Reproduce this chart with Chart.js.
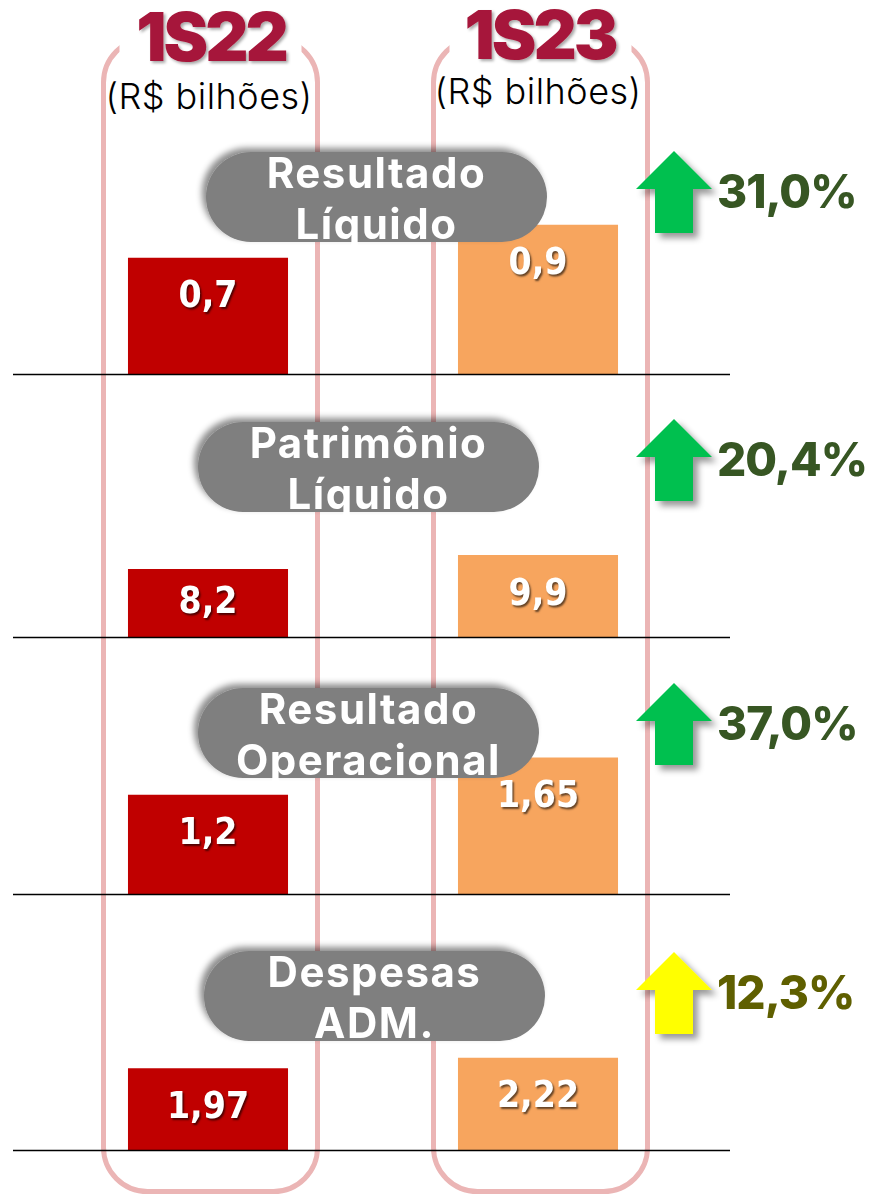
<!DOCTYPE html>
<html>
<head>
<meta charset="utf-8">
<script src="https://cdn.jsdelivr.net/npm/chart.js@4.4.0/dist/chart.umd.min.js"></script>
<style>
  body { margin: 0; background: #fff; }
  #page { position: relative; width: 871px; height: 1196px; overflow: hidden; background: #fff; }
  #page svg, #page canvas { position: absolute; left: 0; }
  #back { top: 0; z-index: 0; }
  #front { top: 0; z-index: 2; pointer-events: none; }
  canvas { z-index: 1; }
</style>
</head>
<body>
<div id="page">
  <svg id="back" width="871" height="1196"></svg>
  <svg id="front" width="871" height="1196"></svg>
</div>
<script>
// dados
var periods = ['1S22', '1S23'];
var unitLabel = '(R$ bilhões)';
var metrics = [['Resultado', 'Líquido'], ['Patrimônio', 'Líquido'], ['Resultado', 'Operacional'], ['Despesas', 'ADM.']];
var values1S22 = [0.7, 8.2, 1.2, 1.97];
var values1S23 = [0.9, 9.9, 1.65, 2.22];
var growth = ['31,0%', '20,4%', '37,0%', '12,3%'];
var axisMax = [1.41, 28.6, 2.83, 5.54];

// layout de cada painel
var panelTop = [140, 400, 660, 920];
var panelBase = [374, 637, 894, 1150];
var pillBox = [[206, 152, 547, 242], [198, 422, 539, 512], [198, 688, 539, 778], [204, 951, 545, 1041]];
var arrowTip = [151, 419, 683, 952];
var arrowColor = ['#00c050', '#00c050', '#00c050', '#ffff00'];
var growthColor = ['#375623', '#375623', '#375623', '#5f5f00'];

var NS = 'http://www.w3.org/2000/svg';
function el(parent, tag, attrs, text) {
    var e = document.createElementNS(NS, tag);
    for (var k in attrs) e.setAttribute(k, attrs[k]);
    if (text !== undefined) e.textContent = text;
    parent.appendChild(e);
    return e;
}

// fundo: molduras rosa + titulos
var back = document.getElementById('back');
var defsB = el(back, 'defs', {});
var fT = el(defsB, 'filter', { id: 'tshadow', x: '-20%', y: '-20%', width: '140%', height: '140%' });
el(fT, 'feDropShadow', { dx: 2, dy: 2, stdDeviation: 1.5, 'flood-color': '#000', 'flood-opacity': 0.35 });

var colX = [103.5, 433.5];
var titleX = [211, 540];
var titleY = [61, 59];
var subY = [109, 104];
var subX = [209, 538];
for (var c = 0; c < 2; c++) {
    el(back, 'rect', { x: colX[c], y: 38.5, width: 214, height: 1153, rx: 44, ry: 44,
        fill: 'none', stroke: '#ebb5b5', 'stroke-width': 5 });
    el(back, 'rect', { x: colX[c] + 16, y: 20, width: 182, height: 40, fill: '#fff' });
    el(back, 'text', { x: titleX[c], y: titleY[c], 'text-anchor': 'middle', fill: '#a6193a',
        'font-family': 'Inter, sans-serif', 'font-weight': 900, 'font-size': 67,
        'letter-spacing': -3, filter: 'url(#tshadow)' }, periods[c]);
    el(back, 'text', { x: subX[c], y: subY[c], 'text-anchor': 'middle', fill: '#000',
        'font-family': 'Inter, sans-serif', 'font-weight': 300, 'font-size': 36,
        'letter-spacing': 0.5 }, unitLabel);
}

// frente: rotulos cinza, setas, percentuais
var front = document.getElementById('front');
var defsF = el(front, 'defs', {});
var fP = el(defsF, 'filter', { id: 'pshadow', x: '-20%', y: '-30%', width: '140%', height: '160%' });
el(fP, 'feDropShadow', { dx: -4, dy: -4, stdDeviation: 3, 'flood-color': '#000', 'flood-opacity': 0.45 });
var fA = el(defsF, 'filter', { id: 'ashadow', x: '-30%', y: '-30%', width: '160%', height: '160%' });
el(fA, 'feDropShadow', { dx: 5, dy: 5, stdDeviation: 3, 'flood-color': '#000', 'flood-opacity': 0.4 });

metrics.forEach(function (lines, i) {
    var b = pillBox[i];
    var cx = (b[0] + b[2]) / 2;
    el(front, 'rect', { x: b[0], y: b[1], width: b[2] - b[0], height: b[3] - b[1],
        rx: (b[3] - b[1]) / 2, ry: (b[3] - b[1]) / 2, fill: '#7f7f7f', filter: 'url(#pshadow)' });
    lines.forEach(function (t, j) {
        el(front, 'text', { x: cx, y: b[1] + 36 + j * 51, 'text-anchor': 'middle', fill: '#fff',
            'font-family': 'Inter, sans-serif', 'font-weight': 700, 'font-size': 42,
            'letter-spacing': 1.5 }, t);
    });

    var T = arrowTip[i];
    var pts = [[674, T], [712, T + 38], [693, T + 38], [693, T + 82], [655, T + 82], [655, T + 38], [636, T + 38]];
    el(front, 'polygon', { points: pts.map(function (p) { return p.join(','); }).join(' '),
        fill: arrowColor[i], filter: 'url(#ashadow)' });
    el(front, 'text', { x: 717, y: T + 57, fill: growthColor[i],
        'font-family': 'Inter, sans-serif', 'font-weight': 800, 'font-size': 46, 'letter-spacing': -1 }, growth[i]);
});

// graficos de barras
var baselinePlugin = {
    id: 'baseline',
    afterDatasetsDraw: function (chart) {
        var ctx = chart.ctx, y = chart.chartArea.bottom + 0.5;
        ctx.save();
        ctx.strokeStyle = '#000';
        ctx.lineWidth = 1.3;
        ctx.beginPath();
        ctx.moveTo(13, y);
        ctx.lineTo(730, y);
        ctx.stroke();
        ctx.restore();
    }
};

var valueLabels = {
    id: 'valueLabels',
    afterDatasetsDraw: function (chart) {
        var ctx = chart.ctx;
        ctx.save();
        ctx.font = 'bold 37px "Liberation Sans Narrow", "DejaVu Sans Condensed", sans-serif';
        ctx.textAlign = 'center';
        ctx.textBaseline = 'middle';
        ctx.fillStyle = '#fff';
        ctx.shadowColor = 'rgba(0,0,0,0.6)';
        ctx.shadowOffsetX = 1.5;
        ctx.shadowOffsetY = 2;
        ctx.shadowBlur = 2;
        chart.data.datasets.forEach(function (ds, di) {
            chart.getDatasetMeta(di).data.forEach(function (bar, k) {
                var v = ds.data[k];
                if (v === null) return;
                var h = bar.base - bar.y;
                ctx.fillText(String(v).replace('.', ','), bar.x, bar.y + Math.min(40, h / 2));
            });
        });
        ctx.restore();
    }
};

var page = document.getElementById('page');
metrics.forEach(function (m, i) {
    var cv = document.createElement('canvas');
    var h = panelBase[i] - panelTop[i] + 2;
    cv.width = 871;
    cv.height = h;
    cv.style.top = panelTop[i] + 'px';
    cv.style.width = '871px';
    cv.style.height = h + 'px';
    page.appendChild(cv);

    new Chart(cv.getContext('2d'), {
        type: 'bar',
        data: {
            labels: periods,
            datasets: [{
                data: [values1S22[i], null],
                backgroundColor: '#c00000',
                grouped: false,
                categoryPercentage: 0.485,
                barPercentage: 1
            }, {
                data: [null, values1S23[i]],
                backgroundColor: '#f7a55e',
                grouped: false,
                categoryPercentage: 0.485,
                barPercentage: 1
            }]
        },
        options: {
            responsive: false,
            animation: false,
            devicePixelRatio: 1,
            layout: { padding: { left: 43, right: 168, top: 0, bottom: 2 } },
            plugins: { legend: { display: false }, tooltip: { enabled: false } },
            scales: {
                x: { display: false },
                y: { display: false, min: 0, max: axisMax[i] }
            }
        },
        plugins: [valueLabels, baselinePlugin]
    });
});
</script>
</body>
</html>
